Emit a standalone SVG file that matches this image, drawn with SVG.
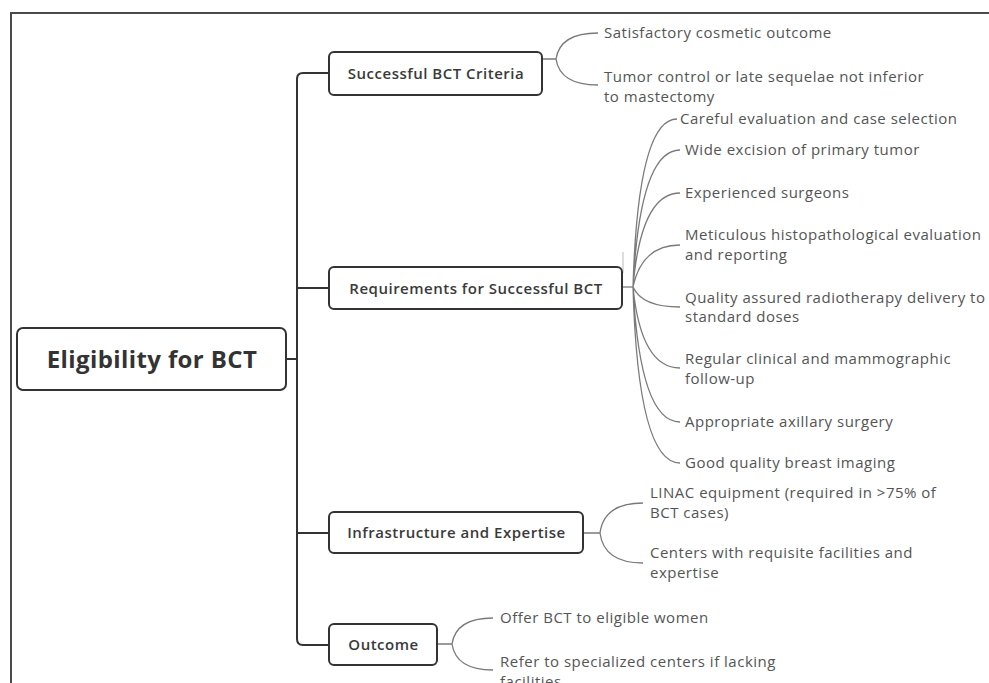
<svg xmlns="http://www.w3.org/2000/svg" width="989" height="683" viewBox="0 0 989 683">
<style>
.frame{fill:none;stroke:#4a4a4a;stroke-width:2}
.node rect{fill:#fff;stroke:#333;stroke-width:2}
.trunk{fill:none;stroke:#333;stroke-width:2}
.leafc{fill:none;stroke:#7a7a7a;stroke-width:1.3}
.lbl{font-family:"Open Sans","Liberation Sans",sans-serif;font-size:15px;letter-spacing:0.5px;font-weight:600;fill:#3a3a3a;text-anchor:middle}
.root{font-family:"Open Sans","Liberation Sans",sans-serif;font-size:24px;letter-spacing:0.4px;font-weight:700;fill:#333;text-anchor:middle}
.leaf{font-family:"Open Sans","Liberation Sans",sans-serif;font-size:15px;letter-spacing:0.5px;fill:#555}
</style>
<rect width="989" height="683" fill="#fff"/>
<path class="frame" d="M11 683 V13 H989"/>
<g id="connectors">
  <path class="trunk" d="M329 73 H303 Q297 73 297 79 V639 Q297 645 303 645 H329"/>
  <path class="trunk" d="M297 288 H329 M297 533 H329 M286 359 H297"/>
  <path class="leafc" d="M542 59 H556 M556 59 Q560 33 598 33 M556 59 Q560 85 598 85"/>
  <path class="leafc" d="M622 287 H633"/>
  <path class="leafc" d="M633 287 Q638 119 677 119 M633 287 Q640 150 680 150 M633 287 Q641 193 680 193 M633 287 Q642 245 680 245 M633 287 Q642 307 680 307 M633 287 Q641 368 680 368 M633 287 Q640 422 680 422 M633 287 Q638 463 680 463"/>
  <path d="M623 252 V273" stroke="#bbb" stroke-width="1" fill="none"/>
  <path class="leafc" d="M583 533 H600 M600 533 Q604 503 643 503 M600 533 Q604 563 643 563"/>
  <path class="leafc" d="M437 644 H452 M452 644 Q456 618 493 618 M452 644 Q456 670 493 670"/>
</g>
<g id="root" class="node">
  <rect x="17" y="328" width="269" height="62" rx="6"/>
  <text class="root" x="152" y="367.5">Eligibility for BCT</text>
</g>
<g id="n1" class="node">
  <rect x="329" y="52" width="213" height="43" rx="5"/>
  <text class="lbl" x="436" y="78.5">Successful BCT Criteria</text>
</g>
<g id="n2" class="node">
  <rect x="329" y="267" width="293" height="42" rx="5"/>
  <text class="lbl" x="476" y="293.5">Requirements for Successful BCT</text>
</g>
<g id="n3" class="node">
  <rect x="329" y="512" width="254" height="41" rx="5"/>
  <text class="lbl" x="456.5" y="538">Infrastructure and Expertise</text>
</g>
<g id="n4" class="node">
  <rect x="329" y="624" width="108" height="41" rx="5"/>
  <text class="lbl" x="383.5" y="650">Outcome</text>
</g>
<g id="l1a"><text class="leaf" x="604" y="38">Satisfactory cosmetic outcome</text></g>
<g id="l1b"><text class="leaf" x="604" y="82">Tumor control or late sequelae not inferior</text><text class="leaf" x="604" y="102">to mastectomy</text></g>
<g id="l2a"><text class="leaf" x="680" y="124">Careful evaluation and case selection</text></g>
<g id="l2b"><text class="leaf" x="685" y="155">Wide excision of primary tumor</text></g>
<g id="l2c"><text class="leaf" x="685" y="198">Experienced surgeons</text></g>
<g id="l2d"><text class="leaf" x="685" y="240">Meticulous histopathological evaluation</text><text class="leaf" x="685" y="260">and reporting</text></g>
<g id="l2e"><text class="leaf" x="685" y="303">Quality assured radiotherapy delivery to</text><text class="leaf" x="685" y="322">standard doses</text></g>
<g id="l2f"><text class="leaf" x="685" y="364">Regular clinical and mammographic</text><text class="leaf" x="685" y="384">follow-up</text></g>
<g id="l2g"><text class="leaf" x="685" y="427">Appropriate axillary surgery</text></g>
<g id="l2h"><text class="leaf" x="685" y="468">Good quality breast imaging</text></g>
<g id="l3a"><text class="leaf" x="650" y="498">LINAC equipment (required in &gt;75% of</text><text class="leaf" x="650" y="518">BCT cases)</text></g>
<g id="l3b"><text class="leaf" x="650" y="558">Centers with requisite facilities and</text><text class="leaf" x="650" y="578">expertise</text></g>
<g id="l4a"><text class="leaf" x="500" y="623">Offer BCT to eligible women</text></g>
<g id="l4b"><text class="leaf" x="500" y="667">Refer to specialized centers if lacking</text><text class="leaf" x="500" y="687">facilities</text></g>
</svg>
